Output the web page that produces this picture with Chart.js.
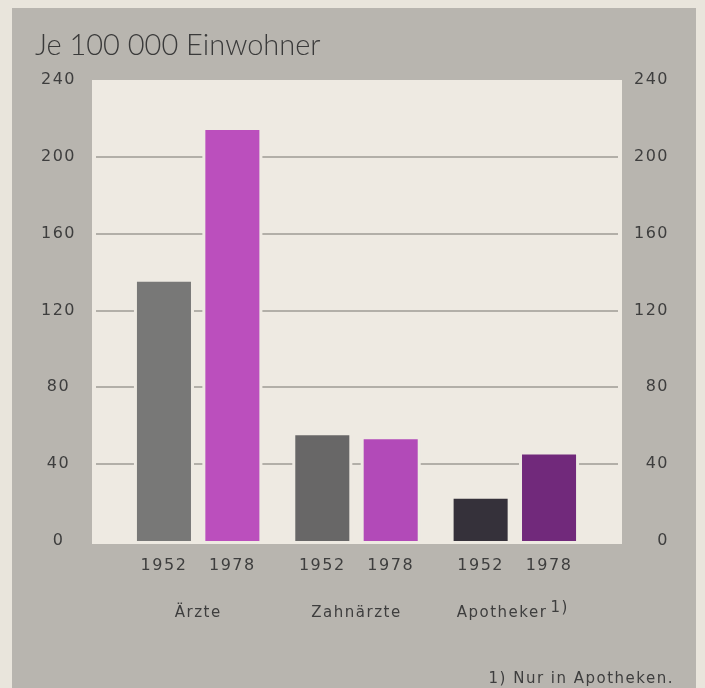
<!DOCTYPE html>
<html>
<head>
<meta charset="utf-8">
<script src="https://cdn.jsdelivr.net/npm/chart.js@4"></script>
<style>
html,body{margin:0;padding:0;background:#e9e5dc;}
</style>
</head>
<body>
<canvas id="myChart" width="705" height="688"></canvas>
<script>
// data
const categories = ['Ärzte', 'Zahnärzte', 'Apotheker'];
const years = ['1952', '1978'];
const values1952 = [135, 55, 22];
const values1978 = [214, 53, 45];
const yTicks = [0, 40, 80, 120, 160, 200, 240];
const colors1952 = ['#787877', '#686767', '#35313a'];
const colors1978 = ['#bb4fbd', '#b24ab8', '#71297b'];
const titleText = 'Je 100 000 Einwohner';
const footnote = '1) Nur in Apotheken.';
const footMark = '1)';

const textColor = '#3e3e3e';
const panelColor = '#eeeae2';
const spacing = '1.5px';

const paper = {
    id: 'paper',
    beforeUpdate(chart) {
        chart.ctx.letterSpacing = spacing;
    },
    beforeDraw(chart) {
        const {ctx, chartArea, scales} = chart;
        const y = scales.y;
        ctx.save();
        ctx.fillStyle = '#e9e5dc';
        ctx.fillRect(0, 0, chart.width, chart.height);
        ctx.fillStyle = '#b8b5af';
        ctx.fillRect(12, 8, 684, 680);
        // cream plot panel, wider than the bar area
        const top = y.getPixelForValue(240);
        const bottom = y.getPixelForValue(0) + 3;
        ctx.fillStyle = panelColor;
        ctx.fillRect(chartArea.left - 27, top, chartArea.width + 55, bottom - top);
        // title
        ctx.letterSpacing = '0px';
        ctx.fillStyle = '#3a3a3a';
        ctx.font = '300 29px Lato';
        ctx.textBaseline = 'alphabetic';
        ctx.fillText(titleText, 35, 55);
        ctx.restore();
        ctx.letterSpacing = spacing;
    },
    beforeDatasetsDraw(chart) {
        const {ctx, chartArea, scales} = chart;
        const y = scales.y;
        ctx.save();
        ctx.strokeStyle = '#b2afa8';
        ctx.lineWidth = 2;
        yTicks.forEach(v => {
            if (v <= 0 || v >= 240) return;
            const py = Math.round(y.getPixelForValue(v));
            ctx.beginPath();
            ctx.moveTo(chartArea.left - 23, py);
            ctx.lineTo(chartArea.right + 24, py);
            ctx.stroke();
        });
        // small gaps in the gridlines around each bar
        ctx.fillStyle = panelColor;
        chart.data.datasets.forEach((ds, i) => {
            chart.getDatasetMeta(i).data.forEach(bar => {
                ctx.fillRect(bar.x - bar.width / 2 - 3, bar.y, bar.width + 6, bar.base - bar.y);
            });
        });
        ctx.restore();
    },
    afterDatasetsDraw(chart) {
        const {ctx, scales} = chart;
        const x = scales.x, y = scales.y;
        ctx.save();
        ctx.letterSpacing = spacing;
        ctx.fillStyle = textColor;
        // year under every bar
        ctx.font = '16px "DejaVu Sans"';
        ctx.textAlign = 'center';
        ctx.textBaseline = 'middle';
        const base = y.getPixelForValue(0);
        chart.data.datasets.forEach((ds, i) => {
            chart.getDatasetMeta(i).data.forEach(bar => {
                ctx.fillText(years[i], bar.x, base + 25);
            });
        });
        // footnote mark after "Apotheker"
        ctx.font = '15px "DejaVu Sans"';
        const full = ctx.measureText(labelFor(2)).width;
        const word = ctx.measureText(categories[2]).width;
        const left = x.getPixelForTick(2) - full / 2;
        ctx.textAlign = 'left';
        ctx.textBaseline = 'alphabetic';
        ctx.fillText(footMark, left + word + 3, 612);
        // footnote
        ctx.textAlign = 'right';
        ctx.fillText(footnote, 674, 683);
        ctx.restore();
    }
};

function labelFor(i) {
    return i === 2 ? categories[i] + '\u2003\u2002' : categories[i];
}

const ctx = document.getElementById('myChart');
const myChart = new Chart(ctx, {
    type: 'bar',
    data: {
        labels: categories,
        datasets: [{
            label: years[0],
            data: values1952,
            backgroundColor: colors1952,
            borderWidth: 0,
            categoryPercentage: 0.864,
            barPercentage: 0.79
        },
        {
            label: years[1],
            data: values1978,
            backgroundColor: colors1978,
            borderWidth: 0,
            categoryPercentage: 0.864,
            barPercentage: 0.79
        }]
    },
    options: {
        responsive: false,
        animation: false,
        devicePixelRatio: 1,
        layout: {padding: {left: 42, right: 36, top: 80, bottom: 0}},
        plugins: {legend: {display: false}, tooltip: {enabled: false}},
        scales: {
            x: {
                grid: {display: false, drawTicks: false},
                border: {display: false},
                ticks: {
                    padding: 63,
                    color: textColor,
                    font: {family: 'DejaVu Sans', size: 15},
                    maxRotation: 0,
                    autoSkip: false,
                    callback: (v, i) => labelFor(i)
                },
                afterFit: s => { s.height = 147; }
            },
            y: {
                position: 'left',
                min: 0,
                max: 240,
                grid: {display: false, drawTicks: false},
                border: {display: false},
                ticks: {
                    stepSize: 40,
                    crossAlign: 'center',
                    padding: 43,
                    color: textColor,
                    font: {family: 'DejaVu Sans', size: 16}
                },
                afterFit: s => { s.width = 77; }
            },
            y2: {
                position: 'right',
                min: 0,
                max: 240,
                grid: {display: false, drawTicks: false},
                border: {display: false},
                ticks: {
                    stepSize: 40,
                    crossAlign: 'far',
                    padding: 40,
                    color: textColor,
                    font: {family: 'DejaVu Sans', size: 16}
                },
                afterFit: s => { s.width = 75; }
            }
        }
    },
    plugins: [paper]
});
</script>
</body>
</html>
